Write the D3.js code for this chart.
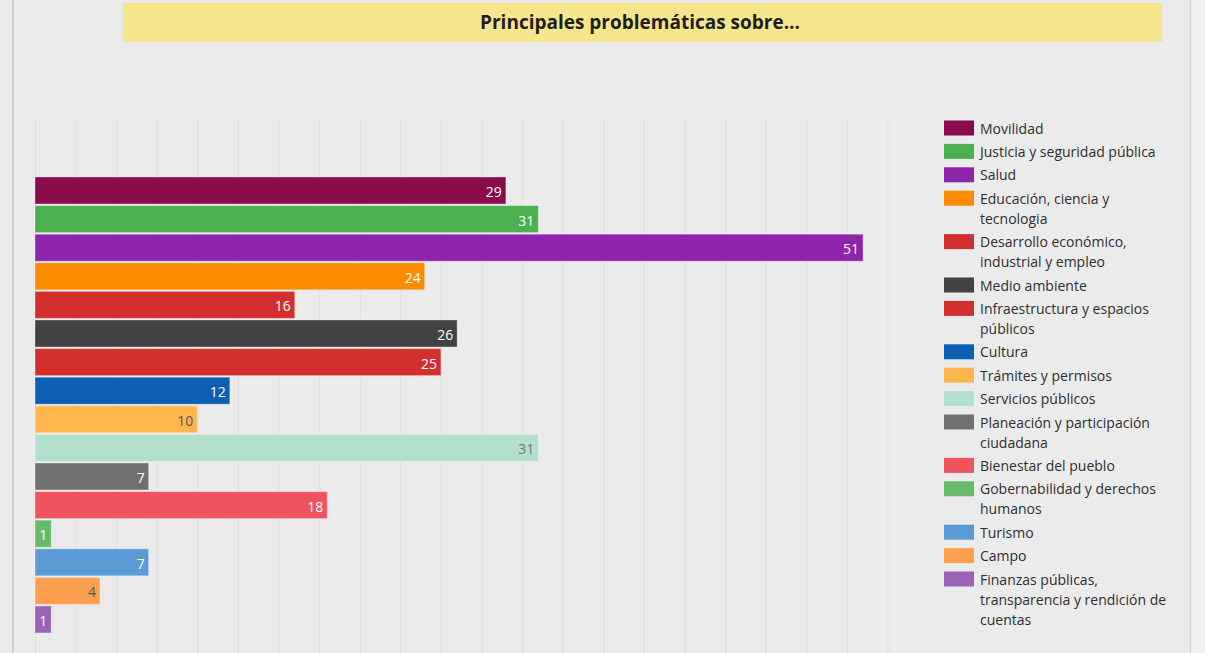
<!DOCTYPE html>
<html>
<head>
<meta charset="utf-8">
<script src="https://cdn.jsdelivr.net/npm/d3@7/dist/d3.min.js"></script>
<style>
  html, body { margin: 0; padding: 0; background: #f1f1f1; }
  svg { display: block; }
  text { font-family: "Open Sans", "Noto Sans", sans-serif; }
</style>
</head>
<body>
<svg id="chart" width="1205" height="653"></svg>
<script>
const title = "Principales problemáticas sobre...";
const categories = [
  "Movilidad",
  "Justicia y seguridad pública",
  "Salud",
  "Educación, ciencia y tecnologia",
  "Desarrollo económico, industrial y empleo",
  "Medio ambiente",
  "Infraestructura y espacios públicos",
  "Cultura",
  "Trámites y permisos",
  "Servicios públicos",
  "Planeación y participación ciudadana",
  "Bienestar del pueblo",
  "Gobernabilidad y derechos humanos",
  "Turismo",
  "Campo",
  "Finanzas públicas, transparencia y rendición de cuentas"
];
const values = [29, 31, 51, 24, 16, 26, 25, 12, 10, 31, 7, 18, 1, 7, 4, 1];
const colors = [
  "#8a0b4a", "#4caf50", "#8e24aa", "#fb8c00", "#d32f2f", "#424242",
  "#d32f2f", "#0d5fb3", "#ffb74d", "#b3e0cc", "#707070", "#ef5360",
  "#66bb6a", "#5b9bd5", "#ffa050", "#9c62b6"
];
const labelColors = [
  "#ffffff", "#ffffff", "#ffffff", "#ffffff", "#ffffff", "#ffffff",
  "#ffffff", "#ffffff", "#555555", "#777777", "#ffffff", "#ffffff",
  "#ffffff", "#ffffff", "#555555", "#ffffff"
];
const gridTicks = d3.range(0, 52.5 + 0.001, 2.5);

const svg = d3.select("#chart");
const W = 1205, H = 653;

// background panel
svg.append("rect").attr("x", 0).attr("y", 0).attr("width", W).attr("height", H).attr("fill", "#f1f1f1");
svg.append("rect").attr("x", 0).attr("y", 0).attr("width", 1190).attr("height", H).attr("fill", "#ebebeb");
svg.append("line").attr("x1", 13).attr("x2", 13).attr("y1", 0).attr("y2", H)
  .attr("stroke", "#cfcfcf").attr("stroke-width", 2);
svg.append("line").attr("x1", 1190.5).attr("x2", 1190.5).attr("y1", 0).attr("y2", H)
  .attr("stroke", "#d6d6d6").attr("stroke-width", 1.5);

// title
svg.append("rect").attr("x", 123).attr("y", 3).attr("width", 1039).attr("height", 39).attr("fill", "#f5e58b");
svg.append("text").attr("x", 640).attr("y", 21.5).attr("text-anchor", "middle")
  .attr("dominant-baseline", "central").attr("font-size", 19).attr("font-weight", 700)
  .attr("fill", "#1e1e1e").text(title);

// scales
const x = d3.scaleLinear().domain([0, 55]).range([35, 928]);
const y = d3.scaleBand().domain(categories).range([177, 633]).paddingInner(0.055).paddingOuter(0);

// gridlines via axis
const grid = svg.append("g").attr("transform", "translate(0,119)")
  .call(d3.axisBottom(x).tickValues(gridTicks).tickSize(H - 119).tickFormat(""));
grid.select(".domain").remove();
grid.selectAll(".tick line").attr("stroke", "#dedede").attr("stroke-width", 1);

// bars
svg.append("g").selectAll("rect").data(categories).join("rect")
  .attr("x", x(0))
  .attr("y", d => y(d))
  .attr("width", (d, i) => x(values[i]) - x(0))
  .attr("height", y.bandwidth())
  .attr("fill", (d, i) => colors[i])
  .attr("stroke", "rgba(255,255,255,0.35)")
  .attr("stroke-width", 1);

// value labels
svg.append("g").selectAll("text").data(categories).join("text")
  .attr("x", (d, i) => x(values[i]) - 4)
  .attr("y", d => y(d) + y.bandwidth() / 2 + 1)
  .attr("text-anchor", "end")
  .attr("dominant-baseline", "central")
  .attr("font-size", 14)
  .attr("fill", (d, i) => labelColors[i])
  .text((d, i) => values[i]);

// legend
const legend = svg.append("g");
const maxW = 196;
const lfs = 14;
let ly = 128;
categories.forEach((c, i) => {
  const g = legend.append("g");
  g.append("rect").attr("x", 944).attr("y", ly - 7.5).attr("width", 30).attr("height", 15).attr("fill", colors[i]);
  const t = g.append("text").attr("x", 980).attr("font-size", lfs).attr("fill", "#2f2f2f");
  const words = c.split(" ");
  let lines = [];
  let line = [];
  const probe = svg.append("text").attr("font-size", lfs).attr("visibility", "hidden");
  words.forEach(w => {
    const test = line.concat([w]).join(" ");
    probe.text(test);
    if (probe.node().getComputedTextLength() > maxW && line.length) {
      lines.push(line.join(" "));
      line = [w];
    } else {
      line.push(w);
    }
  });
  lines.push(line.join(" "));
  probe.remove();
  lines.forEach((l, k) => {
    t.append("tspan").attr("x", 980).attr("y", ly + k * 20).attr("dominant-baseline", "central").text(l);
  });
  ly += 23.4 + (lines.length - 1) * 20;
});
</script>
</body>
</html>
